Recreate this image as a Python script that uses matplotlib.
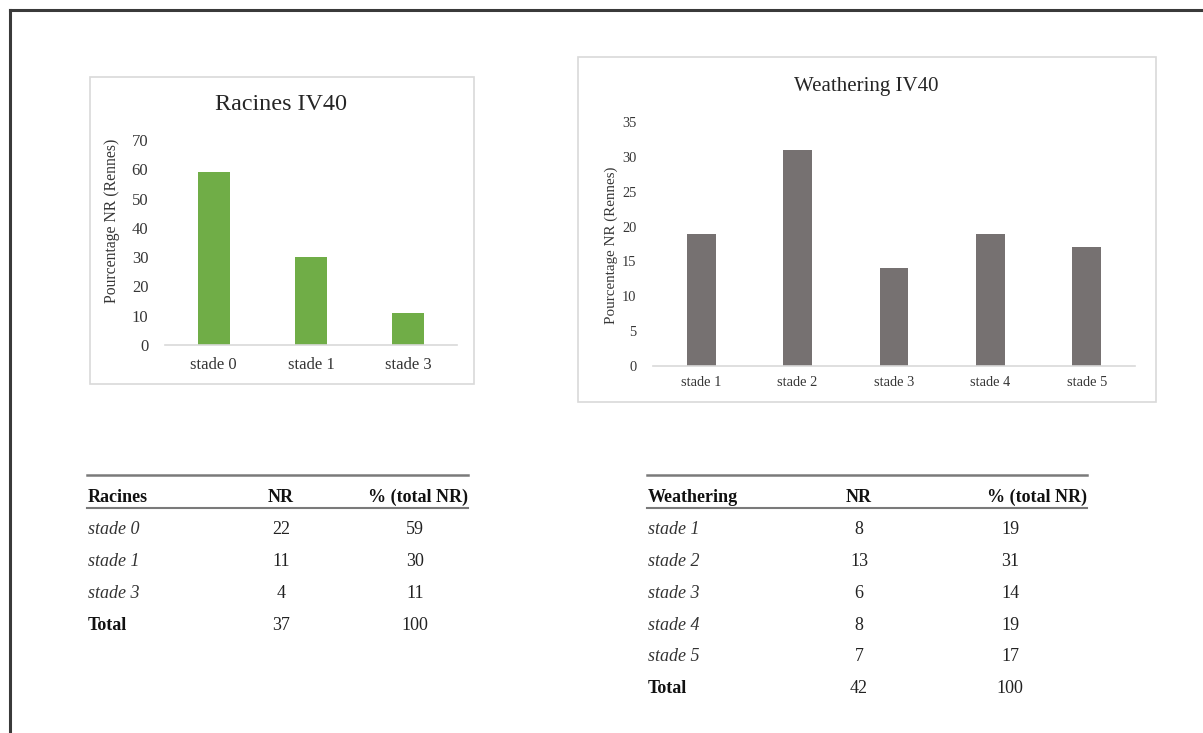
import matplotlib.pyplot as plt
from matplotlib.patches import Rectangle
from matplotlib.lines import Line2D

# Racines (roots) IV40
racines_stades = ['stade 0', 'stade 1', 'stade 3']
racines_nr = [22, 11, 4]
racines_pct = [59, 30, 11]
racines_total = [37, 100]

# Weathering IV40
weath_stades = ['stade 1', 'stade 2', 'stade 3', 'stade 4', 'stade 5']
weath_nr = [8, 13, 6, 8, 7]
weath_pct = [19, 31, 14, 19, 17]
weath_total = [42, 100]

W, H = 1203, 733
GREEN = '#70AD47'
GREY = '#767171'
FRAME = '#D9D9D9'
TXT = '#363636'

plt.rcParams['font.family'] = ['Liberation Serif', 'DejaVu Serif']

fig = plt.figure(figsize=(W / 100, H / 100), dpi=100)
fig.patch.set_facecolor('white')


def box(x0, y0, x1, y1):
    """pixel box (top-left origin) -> figure rect"""
    return [x0 / W, 1 - y1 / H, (x1 - x0) / W, (y1 - y0) / H]


def fx(x):
    return x / W


def fy(y):
    return 1 - y / H


# page edge (top and left)
fig.add_artist(Line2D([fx(10), 1], [fy(9.5), fy(9.5)], color='#3a3a3a', lw=2.2))
fig.add_artist(Line2D([fx(10), fx(10)], [fy(9.5), 0], color='#3a3a3a', lw=2.2))

# chart frames
for x0, y0, x1, y1 in [(90, 77, 474, 384), (578, 57, 1156, 402)]:
    fig.add_artist(Rectangle((fx(x0), fy(y1)), fx(x1) - fx(x0), fy(y0) - fy(y1),
                             transform=fig.transFigure, fill=False,
                             edgecolor=FRAME, lw=1.2))


def bar_chart(rect, cats, vals, color, ymax, step, width, fs, ypad, xpad):
    ax = fig.add_axes(rect)
    ax.bar(range(len(cats)), vals, width=width, color=color)
    ax.set_xlim(-0.5, len(cats) - 0.5)
    ax.set_ylim(0, ymax)
    ax.set_yticks(range(0, ymax + 1, step))
    ax.set_xticks(range(len(cats)))
    ax.set_xticklabels(cats)
    for s in ['top', 'right', 'left']:
        ax.spines[s].set_visible(False)
    ax.spines['bottom'].set_color(FRAME)
    ax.spines['bottom'].set_linewidth(1.2)
    ax.tick_params(axis='y', length=0, pad=ypad, labelsize=fs, labelcolor=TXT)
    ax.tick_params(axis='x', length=0, pad=xpad, labelsize=fs, labelcolor=TXT)
    ax.patch.set_alpha(0)
    return ax


bar_chart(box(165, 140, 457, 345), racines_stades, racines_pct, GREEN,
          70, 10, 0.33, 12, 12, 8.5)
bar_chart(box(653, 122, 1135, 366), weath_stades, weath_pct, GREY,
          35, 5, 0.30, 10.4, 12, 7)

fig.text(fx(281), fy(104), 'Racines IV40', ha='center', va='center',
         fontsize=17.4, color='#262626')
fig.text(fx(866), fy(86), 'Weathering IV40', ha='center', va='center',
         fontsize=15, color='#262626')
fig.text(fx(112), fy(221), 'Pourcentage NR (Rennes)', rotation=90,
         ha='center', va='center', fontsize=11.3, color=TXT)
fig.text(fx(611), fy(245), 'Pourcentage NR (Rennes)', rotation=90,
         ha='center', va='center', fontsize=10.8, color=TXT)


def table(x0, x1, c_nr, c_pct, head, stades, nr, pct, total):
    fs = 13
    fig.add_artist(Line2D([fx(x0), fx(x1)], [fy(475), fy(475)], color='#7a7a7a', lw=1.8))
    fig.add_artist(Line2D([fx(x0), fx(x1)], [fy(508), fy(508)], color='#7a7a7a', lw=1.5))
    fig.text(fx(x0 + 1), fy(497), head, ha='left', va='center', fontsize=fs,
             fontweight='bold', color='#111111')
    fig.text(fx(c_nr), fy(497), 'NR', ha='center', va='center', fontsize=fs,
             fontweight='bold', color='#111111')
    fig.text(fx(x1), fy(497), '% (total NR)', ha='right', va='center', fontsize=fs,
             fontweight='bold', color='#111111')
    y = 530
    for s, n, p in zip(stades, nr, pct):
        fig.text(fx(x0 + 1), fy(y), s, ha='left', va='center', fontsize=fs,
                 style='italic', color='#333333')
        fig.text(fx(c_nr), fy(y), str(n), ha='center', va='center', fontsize=fs, color='#222222')
        fig.text(fx(c_pct), fy(y), str(p), ha='center', va='center', fontsize=fs, color='#222222')
        y += 31.7
    fig.text(fx(x0 + 1), fy(y), 'Total', ha='left', va='center', fontsize=fs,
             fontweight='bold', color='#111111')
    fig.text(fx(c_nr), fy(y), str(total[0]), ha='center', va='center', fontsize=fs, color='#222222')
    fig.text(fx(c_pct), fy(y), str(total[1]), ha='center', va='center', fontsize=fs, color='#222222')


table(87, 468, 281, 415, 'Racines', racines_stades, racines_nr, racines_pct, racines_total)
table(647, 1087, 859, 1010, 'Weathering', weath_stades, weath_nr, weath_pct, weath_total)

fig.savefig('out.png', dpi=100, facecolor='white')
